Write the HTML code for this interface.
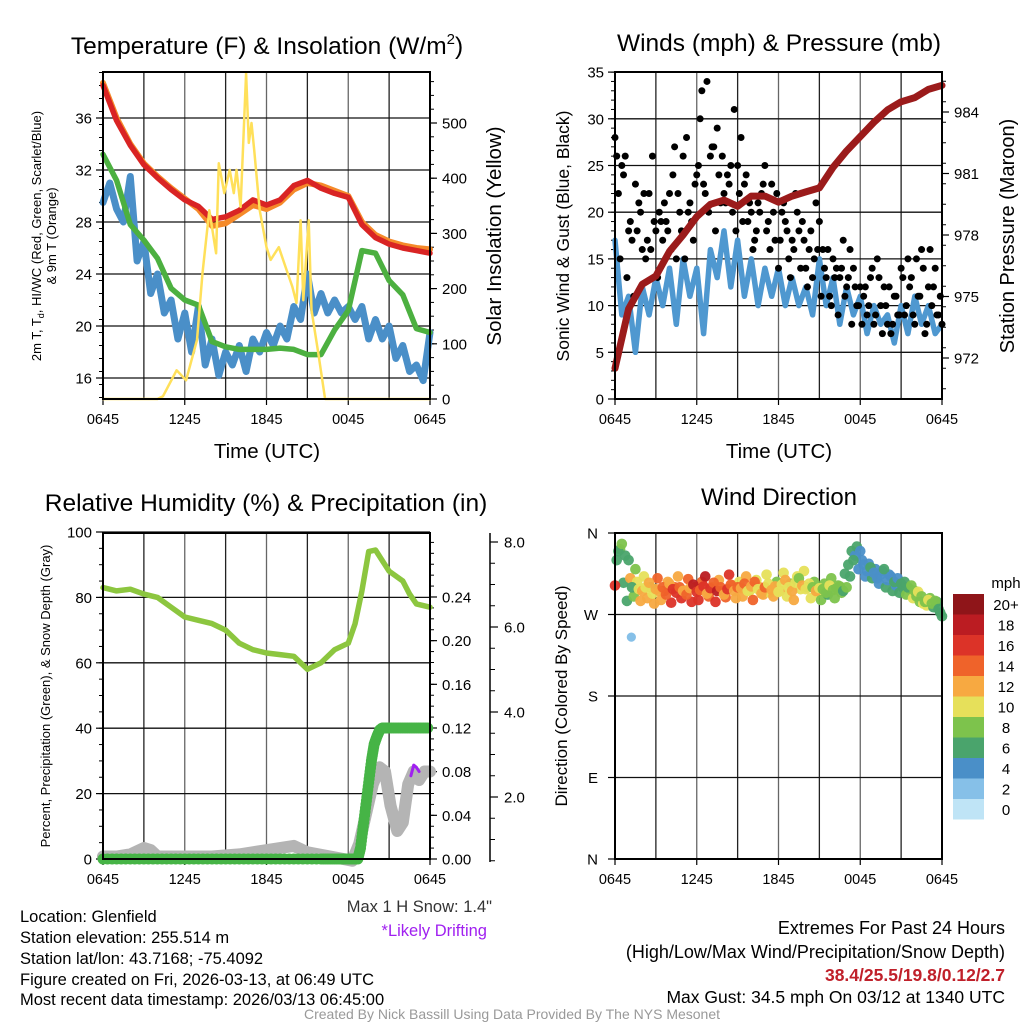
<!DOCTYPE html>
<html><head><meta charset="utf-8"><style>
html,body{margin:0;padding:0;background:#fff}
svg{display:block}
text{font-family:"Liberation Sans",Arial,sans-serif;fill:#000}
</style></head><body>
<svg id="fig" width="1024" height="1024" viewBox="0 0 1024 1024">
<g id="g1"></g>
<g id="g2"></g>
<g id="g3"></g>
<g id="g4"></g>

<text x="267" y="54" font-size="24.5" text-anchor="middle">Temperature (F) &amp; Insolation (W/m<tspan font-size="15" dy="-10">2</tspan><tspan dy="10">)</tspan></text>
<text x="779" y="51" font-size="24.5" text-anchor="middle">Winds (mph) &amp; Pressure (mb)</text>
<text x="266" y="511" font-size="24.5" text-anchor="middle">Relative Humidity (%) &amp; Precipitation (in)</text>
<text x="779" y="505" font-size="24" text-anchor="middle">Wind Direction</text>

<text x="267" y="458" font-size="20.5" text-anchor="middle">Time (UTC)</text>
<text x="779" y="458" font-size="20.5" text-anchor="middle">Time (UTC)</text>

<text transform="translate(41,236) rotate(-90)" font-size="13" text-anchor="middle">2m T, T<tspan font-size="9" dy="3">d</tspan><tspan dy="-3">, HI/WC (Red, Green, Scarlet/Blue)</tspan></text>
<text transform="translate(56,236) rotate(-90)" font-size="13" text-anchor="middle">&amp; 9m T (Orange)</text>
<text transform="translate(501,236) rotate(-90)" font-size="20.5" text-anchor="middle">Solar Insolation (Yellow)</text>
<text transform="translate(569,236) rotate(-90)" font-size="17.5" text-anchor="middle">Sonic Wind &amp; Gust (Blue, Black)</text>
<text transform="translate(1014,236) rotate(-90)" font-size="20" text-anchor="middle">Station Pressure (Maroon)</text>
<text transform="translate(50,696) rotate(-90)" font-size="13" text-anchor="middle">Percent, Precipitation (Green), &amp; Snow Depth (Gray)</text>
<text transform="translate(567,696) rotate(-90)" font-size="17" text-anchor="middle">Direction (Colored By Speed)</text>

<text x="492" y="912" font-size="16.5" text-anchor="end" style="fill:#333">Max 1 H Snow: 1.4"</text>
<text x="487" y="936" font-size="16.5" text-anchor="end" style="fill:#a020f0">*Likely Drifting</text>

<g>
<text x="20" y="922" font-size="16.5">Location: Glenfield</text>
<text x="20" y="943" font-size="16.5">Station elevation: 255.514 m</text>
<text x="20" y="964" font-size="16.5">Station lat/lon: 43.7168; -75.4092</text>
<text x="20" y="985" font-size="16.5">Figure created on Fri, 2026-03-13, at 06:49 UTC</text>
<text x="20" y="1005" font-size="16.5">Most recent data timestamp: 2026/03/13 06:45:00</text>
</g>
<g>
<text x="1005" y="934" font-size="18" text-anchor="end">Extremes For Past 24 Hours</text>
<text x="1005" y="958" font-size="18" text-anchor="end">(High/Low/Max Wind/Precipitation/Snow Depth)</text>
<text x="1005" y="981" font-size="17.5" text-anchor="end" font-weight="bold" style="fill:#c0202a">38.4/25.5/19.8/0.12/2.7</text>
<text x="1005" y="1003" font-size="17.5" text-anchor="end">Max Gust: 34.5 mph On 03/12 at 1340 UTC</text>
</g>
<text x="512" y="1019" font-size="14" text-anchor="middle" style="fill:#999">Created By Nick Bassill Using Data Provided By The NYS Mesonet</text>
</svg>
<script>
// ---------- data ----------
const hourTicks = ["0645","1245","1845","0045","0645"];
const tempTickLabels = [16,20,24,28,32,36];
const solarTickLabels = [0,100,200,300,400,500];
const windTickLabels = [0,5,10,15,20,25,30,35];
const pressTickLabels = [972,975,978,981,984];
const rhTickLabels = [0,20,40,60,80,100];
const precipTickLabels = ["0.00","0.04","0.08","0.12","0.16","0.20","0.24"];
const snowTickLabels = ["2.0","4.0","6.0","8.0"];
const dirTickLabels = ["N","E","S","W","N"];
const speedBinLabels = ["0","2","4","6","8","10","12","14","16","18","20+"];
const speedBinColors = ["#bfe4f6","#86c0e8","#4a8fc8","#4aa46c","#7dc34c","#e6e05a","#f7a941","#ef632a","#dc3328","#bb1c22","#8f1519"];

const tempRed = [38.5,35.8,33.9,32.4,31.4,30.5,29.7,29.2,28.2,28.4,28.9,29.7,29.3,29.7,30.8,31.2,30.6,30.2,29.9,27.8,26.8,26.3,26.0,25.8,25.6];
const temp9m  = [38.7,36.0,34.0,32.5,31.5,30.6,29.8,29.0,27.7,27.9,28.6,29.3,29.0,29.5,30.5,31.0,30.8,30.4,30.0,28.0,27.0,26.5,26.2,26.0,25.9];
const dewGreen = [33.2,31.2,27.8,26.6,25.2,22.9,22.0,21.6,18.8,18.4,18.2,18.2,18.2,18.3,18.2,17.8,17.8,19.7,21.2,25.8,25.6,23.5,22.4,19.8,19.5];
const windChill = [29.5,31,29,28,31.5,25,26.5,22.5,24,21,22,19,21,18,21.5,17,19,16.2,18,17,18.5,16.5,19,18,19.5,18.5,20,19,21.5,20.5,24,21,22.5,21,22,21,21.5,20.5,21.5,19,20.5,19,20,17.5,18.5,16.5,17,15.8,19.5];
const solarHours = [0,4.0,4.4,5.4,6.1,6.9,7.3,7.8,8.3,8.5,8.9,9.3,9.6,9.8,10.1,10.5,10.7,10.9,11.1,11.5,12.0,12.3,12.9,13.4,13.9,14.2,14.5,14.7,15.1,15.3,15.8,16.3,24];
const solarVals  = [0,0,5,52,34,107,228,342,264,427,373,415,373,415,348,590,464,500,451,342,275,252,275,239,203,174,324,179,324,161,83,0,0];

const pressure = [971.5,974.4,975.6,976.0,977.2,978.0,978.9,979.5,979.7,979.4,979.9,979.9,979.6,979.9,980.1,980.3,981.3,982.1,982.8,983.5,984.1,984.5,984.7,985.1,985.3];
const windSpeed = [17,9,11,5,12,9,13,10,14,8,15,11,14,7,16,13,18,12,17,11,15,10,14,11,14,10,13,10,12,9,15,10,13,8,12,9,11,7,10,8,9,6,10,7,11,8,10,7,8];
const gustA = [28,22,25,26,18,17,23,21,16,15,22,26,18, 20,17,19,22,24,15,20,26,28,21,17,24, 30,23,34,26,27,29,21,22,24,25,31,25, 28,23,19,20,17,21,22,25,19,23,17,14, 20,19,15,17,22,18,19,14,16,13,21,19, 16,13,11,15,14,13,17,12,16,14,10,12, 11,9,13,8,15,10,12,8,7,11,9,14, 9,15,13,8,11,16,7,12,10,14,9,8];
const gustB = [26,15,24,13,19,11,18,20,22,17,16,19, 13,19,21,18,16,27,22,18,15,20,19,23, 25,33,22,20,27,18,24,26,21,23,20,18, 22,19,24,21,16,18,20,23,18,16,20,22, 17,21,18,13,16,20,14,17,12,18,15,16, 11,14,16,10,13,9,14,11,13,8,12,10, 8,12,10,14,9,13,7,10,12,8,11,9, 13,10,12,9,15,11,14,8,16,12,9,11];

const rhHours = [0,1,2,3,4,5,6,7,8,9,10,11,12,13,14,15,16,17,18,18.5,19,19.5,20,21,22,22.5,23,24];
const rhVals  = [83,82,82.5,81,80,77,74,73,72,70,66,64,63,62.5,62,58,60,64,66,72,82,94,94.5,88,85,81,78,77];
const precipHours = [0,2,4,6,8,10,12,14,16,17,18,18.7,18.9,19.1,19.3,19.5,19.7,19.9,20.1,20.3,20.5,21,22,23,24];
const precipVals  = [0,0,0,0,0,0,0,0,0,0,0,0,0.01,0.03,0.05,0.07,0.09,0.105,0.112,0.118,0.12,0.12,0.12,0.12,0.12];
const snowHours = [0,1,2,3,3.5,4,6,8,10,13,14,15,17.5,18.3,18.8,19.3,19.8,20.3,20.7,21.1,21.6,22.0,22.4,22.8,23.2,23.6,24];
const snowVals  = [0.6,0.6,0.65,0.8,0.75,0.6,0.6,0.6,0.65,0.8,0.85,0.7,0.55,0.5,0.9,1.6,2.3,2.7,2.6,1.8,1.2,1.4,2.3,2.6,2.4,2.6,2.6];
const driftHours = [22.6,22.8,23.0,23.2];
const driftVals  = [2.5,2.75,2.7,2.6];

const dirDeg = [302,340,348,335,330,300,320,298,296,300,305,293,298, 296,300,292,304,298,294,300,296,292,299,303,295, 297,301,293,299,305,296,300,292,298,303,296,300, 299,304,296,301,306,298,293,300,304,297,301,295, 303,308,300,296,305,310,302,298,304,300,296,299, 298,294,302,297,299,301,296,300,312,330,345,340, 325,318,322,316,310,314,320,308,312,306,310,304, 306,300,302,296,295,290,284,286,282,285,276,268];
const dirSpeed = [17,7,8,7,6,6,9,10,12,11,13,10,12, 13,14,15,12,16,17,14,13,15,12,18,16, 15,17,13,16,14,19,15,12,16,14,13,15, 12,14,11,13,15,10,12,14,11,12,13,10, 11,12,10,13,11,9,12,10,11,9,12,10, 9,8,10,9,8,9,7,8,7,6,6,5, 5,4,6,5,4,5,6,5,4,6,5,6, 6,7,8,9,10,9,8,10,9,8,7,6];
const dirDegB = [330,342,305,285,310,290,306,285,312,288,300,282, 310,286,296,306,283,300,312,288,296,309,284,300, 286,306,312,290,300,284,308,296,289,314,302,288, 306,290,312,296,286,308,300,292,314,294,290,306, 296,316,290,304,286,312,298,318,300,288,306,294, 286,304,292,310,288,302,294,315,325,340,335,320, 330,312,326,310,320,304,318,300,314,296,302,294, 300,292,298,288,290,284,282,280,288,278,284,272];
const dirSpeedB = [7,8,7,6,12,8,11,12,10,13,9,12, 14,13,16,12,17,15,13,16,12,14,17,15, 16,14,18,15,13,16,12,15,14,17,13,12, 11,13,12,10,14,11,13,12,10,11,12,9, 12,10,11,9,12,10,11,10,9,11,8,10, 8,9,7,8,8,9,8,7,6,6,5,5, 4,5,5,6,4,5,4,6,5,6,5,6, 7,8,9,10,8,9,10,10,8,7,6,7];
const dirOutlierHours = [1.2];
const dirOutlierDeg = [245];
const dirOutlierSpeed = [3];

// ---------- helpers ----------
const NS = "http://www.w3.org/2000/svg";
function mk(parent, tag, attrs, name){
  const el = document.createElementNS(NS, tag);
  for (const k in attrs) el.setAttribute(k, attrs[k]);
  
  
  parent.appendChild(el);
  return el;
}
function txt(parent, x, y, s, size, anchor, name){
  const t = mk(parent, "text", {x:x, y:y, "font-size":size, "text-anchor":anchor}, name);
  t.textContent = s;
  return t;
}
const W = 327;
const xL = h => 103 + h*W/24;
const xR = h => 615 + h*W/24;
function poly(parent, xs, ys, color, width, name){
  const pts = xs.map((x,i)=>x.toFixed(1)+","+ys[i].toFixed(1)).join(" ");
  return mk(parent, "polyline", {points:pts, fill:"none", stroke:color, "stroke-width":width, "stroke-linejoin":"round", "stroke-linecap":"round"}, name);
}
function grid(g, x0, y0, x1, y1, hy){
  for (let k=0;k<=8;k++){
    const x = x0 + k*(x1-x0)/8;
    mk(g,"line",{x1:x,y1:y0,x2:x,y2:y1,stroke:(k%2? "#222":"#666"),"stroke-width":1.3},"v-gridline");
    if (k%2===0){
      mk(g,"line",{x1:x,y1:y1,x2:x,y2:y1+6,stroke:"#000","stroke-width":1.2},"x-tick");
      txt(g, x, y1+25, hourTicks[k/2], 14.5, "middle", "x-tick-label");
    }
  }
  hy.forEach(y=>mk(g,"line",{x1:x0,y1:y,x2:x1,y2:y,stroke:"#111","stroke-width":1.3},"h-gridline"));
}
function frame(g, x0,y0,x1,y1){
  mk(g,"rect",{x:x0,y:y0,width:x1-x0,height:y1-y0,fill:"none",stroke:"#000","stroke-width":2},"plot-frame");
}
function leftTicks(g, x, vals, fy, labels, minorVals){
  minorVals.forEach(v=>mk(g,"line",{x1:x-4,y1:fy(v),x2:x,y2:fy(v),stroke:"#000","stroke-width":1},"minor-tick"));
  vals.forEach((v,i)=>{
    mk(g,"line",{x1:x-7,y1:fy(v),x2:x,y2:fy(v),stroke:"#000","stroke-width":1.2},"y-tick");
    txt(g, x-11, fy(v)+5.5, labels[i], 15, "end", "y-tick-label");
  });
}
function rightTicks(g, x, vals, fy, labels, minorVals){
  minorVals.forEach(v=>mk(g,"line",{x1:x,y1:fy(v),x2:x+4,y2:fy(v),stroke:"#000","stroke-width":1},"minor-tick"));
  vals.forEach((v,i)=>{
    mk(g,"line",{x1:x,y1:fy(v),x2:x+7,y2:fy(v),stroke:"#000","stroke-width":1.2},"y-tick");
    txt(g, x+12, fy(v)+5.5, labels[i], 15, "start", "y-tick-label");
  });
}
const range = (a,b,s)=>{const r=[];for(let v=a;v<=b+1e-9;v+=s)r.push(+v.toFixed(4));return r;};

// ---------- panel 1: temperature ----------
(function(){
  const g = document.getElementById("g1");
  const yT = t => 378 - (t-16)*13;
  const yS = s => 399 - s*0.552;
  grid(g,103,72,430,399,tempTickLabels.map(yT));
  leftTicks(g,103,tempTickLabels,yT,tempTickLabels.map(String),range(14.5,39.5,1));
  rightTicks(g,430,solarTickLabels,yS,solarTickLabels.map(String),range(0,575,25));
  const hh = tempRed.map((_,i)=>i);
  const hb = windChill.map((_,i)=>i/2);
  poly(g, hb.map(xL), windChill.map(yT), "#4a8fc8", 7, "windchill-line-blue");
  poly(g, hh.map(xL), dewGreen.map(yT), "#4cb040", 5.5, "dewpoint-line-green");
  poly(g, hh.map(xL), temp9m.map(yT), "#f58a2a", 6, "temp-9m-line-orange");
  poly(g, hh.map(xL), tempRed.map(yT), "#d92424", 5.5, "temp-2m-line-red");
  poly(g, solarHours.map(xL), solarVals.map(yS), "#ffe05a", 2.5, "solar-line-yellow");
  frame(g,103,72,430,399);
})();

// ---------- panel 2: winds ----------
(function(){
  const g = document.getElementById("g2");
  const yW = w => 399 - w*9.34;
  const yP = p => 358 - (p-972)*20.5;
  grid(g,615,72,942,399,windTickLabels.map(yW));
  leftTicks(g,615,windTickLabels,yW,windTickLabels.map(String),range(0,35,1));
  rightTicks(g,942,pressTickLabels,yP,pressTickLabels.map(String),range(970.5,985.5,1));
  const hb = windSpeed.map((_,i)=>i/2);
  poly(g, hb.map(xR), windSpeed.map(yW), "#4f98d0", 5.5, "wind-speed-line-blue");
  gustA.forEach((v,i)=>{
    mk(g,"circle",{cx:xR(i*0.25),cy:yW(v),r:3.5,fill:"#000"},"gust-point");
  });
  gustB.forEach((v,i)=>{
    mk(g,"circle",{cx:xR(i*0.25+0.125),cy:yW(v),r:3.5,fill:"#000"},"gust-point");
  });
  poly(g, pressure.map((_,i)=>xR(i)), pressure.map(yP), "#9b1b1b", 7, "pressure-line-maroon");
  frame(g,615,72,942,399);
})();

// ---------- panel 3: humidity & precip ----------
(function(){
  const g = document.getElementById("g3");
  const yRH = r => 859 - r*3.27;
  const yPr = p => 859 - p*1091.7;
  const ySn = s => 882 - s*42.5;
  grid(g,103,533,430,859,rhTickLabels.map(yRH));
  leftTicks(g,103,rhTickLabels,yRH,rhTickLabels.map(String),range(0,100,5));
  rightTicks(g,430,precipTickLabels.map(Number),yPr,precipTickLabels,range(0,0.29,0.01));
  mk(g,"line",{x1:490,y1:533,x2:490,y2:862,stroke:"#000","stroke-width":1.5},"snow-axis-line");
  range(0.5,8.5,0.5).forEach(v=>{ if (ySn(v)>=533) mk(g,"line",{x1:490,y1:ySn(v),x2:495,y2:ySn(v),stroke:"#000","stroke-width":1},"snow-minor-tick");});
  snowTickLabels.forEach(s=>{
    const v=Number(s);
    mk(g,"line",{x1:490,y1:ySn(v),x2:498,y2:ySn(v),stroke:"#000","stroke-width":1.2},"snow-tick");
    txt(g,504,ySn(v)+5.5,s,15,"start","snow-tick-label");
  });
  poly(g, snowHours.map(xL), snowVals.map(ySn), "#b4b4b4", 12, "snow-depth-line-gray");
  poly(g, driftHours.map(xL), driftVals.map(ySn), "#a020f0", 3, "drifting-marks-purple");
  poly(g, rhHours.map(xL), rhVals.map(yRH), "#8cc63f", 5.5, "rh-line-green");
  for (let i=0;i<precipHours.length-1;i++){
    const steps = 6;
    for (let s=0;s<steps;s++){
      const f=s/steps;
      const h = precipHours[i]+(precipHours[i+1]-precipHours[i])*f;
      const p = precipVals[i]+(precipVals[i+1]-precipVals[i])*f;
      mk(g,"circle",{cx:xL(h),cy:yPr(p),r:5.5,fill:"#46b446"},"precip-point");
    }
  }
  frame(g,103,533,430,859);
})();

// ---------- panel 4: direction ----------
(function(){
  const g = document.getElementById("g4");
  const yD = d => 859 - d*326/360;
  const dirVals=[0,90,180,270,360];
  grid(g,615,533,942,859,dirVals.map(yD));
  dirVals.forEach((d,i)=>{
    mk(g,"line",{x1:608,y1:yD(d),x2:615,y2:yD(d),stroke:"#000","stroke-width":1.2},"y-tick");
    txt(g,598,yD(d)+5.5,dirTickLabels[i],15,"end","direction-tick-label");
  });
  const col = s => speedBinColors[Math.min(10, Math.floor(s/2))];
  dirDegB.forEach((d,i)=>{
    mk(g,"circle",{cx:xR(i*0.25+0.125),cy:yD(d),r:5.3,fill:col(dirSpeedB[i]),opacity:0.95},"direction-point");
  });
  dirDeg.forEach((d,i)=>{
    mk(g,"circle",{cx:xR(i*0.25),cy:yD(d),r:5.3,fill:col(dirSpeed[i]),opacity:0.95},"direction-point");
  });
  dirOutlierHours.forEach((h,i)=>{
    mk(g,"circle",{cx:xR(h),cy:yD(dirOutlierDeg[i]),r:4.6,fill:col(dirOutlierSpeed[i])},"direction-point");
  });
  frame(g,615,533,942,859);
  txt(g,1006,588,"mph",15,"middle","colorbar-title");
  const top=594, bh=20.5;
  for (let k=0;k<11;k++){
    const idx = 10-k;
    mk(g,"rect",{x:953,y:top+k*bh,width:31,height:bh,fill:speedBinColors[idx]},"colorbar-box");
    txt(g,1006,top+k*bh+bh/2+5.5,speedBinLabels[idx],15,"middle","colorbar-label");
  }
})();
</script>
</body></html>
